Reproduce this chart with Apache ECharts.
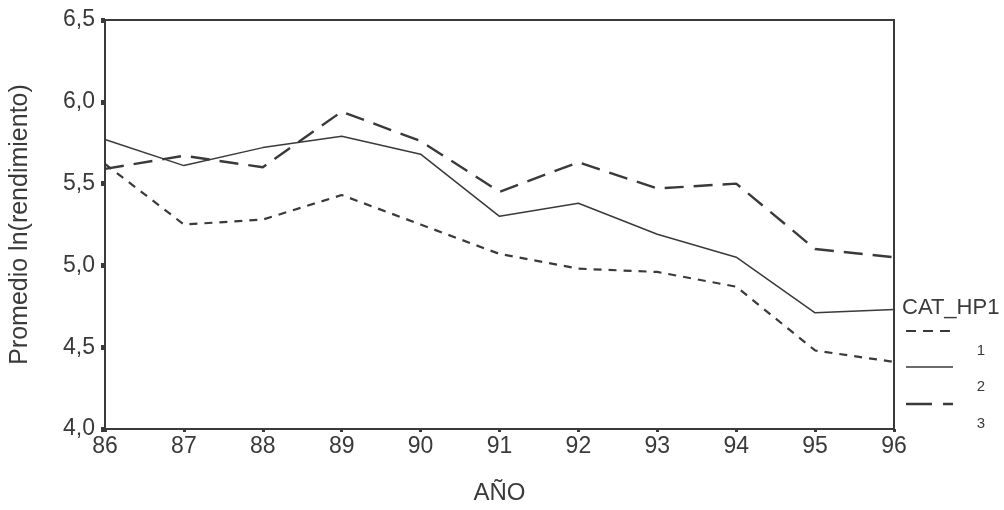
<!DOCTYPE html>
<html><head><meta charset="utf-8">
<script src="https://cdn.jsdelivr.net/npm/echarts@6/dist/echarts.min.js"></script>
<style>html,body{margin:0;padding:0;background:#fff}#c{width:1004px;height:510px}</style>
</head><body><div id="c"></div>
<script>
const years = ['86','87','88','89','90','91','92','93','94','95','96'];
const cat1 = [5.62, 5.25, 5.28, 5.43, 5.25, 5.07, 4.98, 4.96, 4.87, 4.48, 4.41];
const cat2 = [5.77, 5.61, 5.72, 5.79, 5.68, 5.30, 5.38, 5.19, 5.05, 4.71, 4.73];
const cat3 = [5.59, 5.67, 5.60, 5.94, 5.76, 5.45, 5.63, 5.47, 5.50, 5.10, 5.05];
const seriesNames = ['1', '2', '3'];
const yTicks = [4.0, 4.5, 5.0, 5.5, 6.0, 6.5];

const C = '#3a3a3a';
const FONT = 'Liberation Sans, Arial, sans-serif';
const styles = [
  {type: [8, 7], width: 2.2},
  {type: 'solid', width: 1.5},
  {type: [19, 10], width: 2.4}
];
const data = [cat1, cat2, cat3];

const chart = echarts.init(document.getElementById('c'));
const legendGraphics = [{type: 'text', left: 902, top: 297, style: {text: 'CAT_HP1', font: '22px ' + FONT, fill: C}}];
const legendY = [331, 367, 404];
const legendDash = [[10, 7], null, [26, 11, 10, 11]];
styles.forEach((s, i) => {
  legendGraphics.push({type: 'line', shape: {x1: 906, y1: legendY[i], x2: 953, y2: legendY[i]},
    style: {stroke: C, lineWidth: s.width, lineDash: legendDash[i]}});
  legendGraphics.push({type: 'text', style: {x: 981, y: legendY[i] + 20, text: seriesNames[i],
    font: '15px ' + FONT, fill: C, textAlign: 'center', textVerticalAlign: 'middle'}});
});

chart.setOption({
  animation: false,
  backgroundColor: '#fff',
  grid: {left: 105, right: 110, top: 20, bottom: 80, show: true, borderColor: C, borderWidth: 2},
  xAxis: {
    type: 'category', data: years, boundaryGap: false,
    name: 'AÑO', nameLocation: 'middle', nameGap: 52,
    nameTextStyle: {fontFamily: FONT, fontSize: 24, color: C},
    axisLine: {lineStyle: {color: C, width: 2}},
    axisTick: {show: true, alignWithLabel: true, length: 3, lineStyle: {color: C, width: 3}},
    axisLabel: {fontFamily: FONT, fontSize: 23, color: C, margin: 6},
    splitLine: {show: false}
  },
  yAxis: {
    type: 'value', min: yTicks[0], max: yTicks[yTicks.length - 1], interval: 0.5,
    name: 'Promedio ln(rendimiento)', nameLocation: 'middle', nameGap: 72,
    nameTextStyle: {fontFamily: FONT, fontSize: 25, color: C},
    axisLine: {show: true, lineStyle: {color: C, width: 2}},
    axisTick: {show: true, length: 4, lineStyle: {color: C, width: 5}},
    axisLabel: {fontFamily: FONT, fontSize: 23, color: C, margin: 10,
      formatter: v => v.toFixed(1).replace('.', ',')},
    splitLine: {show: false}
  },
  series: data.map((d, i) => ({
    name: seriesNames[i], type: 'line', data: d, showSymbol: false, symbol: 'none',
    lineStyle: {color: C, width: styles[i].width, type: styles[i].type},
    z: 3
  })),
  graphic: legendGraphics
});
</script></body></html>
